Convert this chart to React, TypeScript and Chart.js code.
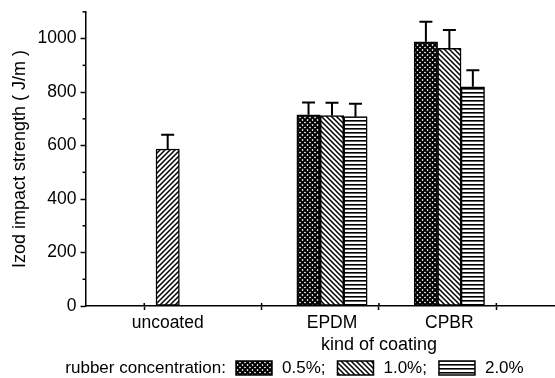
import React, { useEffect, useRef } from 'react';
import { Chart, registerables } from 'chart.js';

Chart.register(...registerables);

// ---- data ----
const categories = ['uncoated', 'EPDM', 'CPBR'];
const categoryX = [0.7, 2.1, 3.1];
const seriesLabels = ['0.5%', '1.0%', '2.0%'];
const seriesOffsets = [-0.2, 0, 0.2];
const values05 = [null, 715, 988];
const values10 = [587, 712, 964];
const values20 = [null, 708, 820];
const errors05 = [null, 46, 75];
const errors10 = [53, 48, 68];
const errors20 = [null, 48, 62];
const yMajorTicks = [0, 200, 400, 600, 800, 1000];
const yMinorTicks = [100, 300, 500, 700, 900, 1100];
const xMarkTicks = [0.5, 1.5, 2.5, 3.5];
const yTitle = 'Izod impact strength ( J/m )';
const xTitle = 'kind of coating';
const legendTitle = 'rubber concentration:';

const FONT = '"Liberation Sans", Arial, Helvetica, sans-serif';

type Kind = 'cross' | 'back' | 'fwd' | 'horiz';

function makePattern(target: CanvasRenderingContext2D, kind: Kind): CanvasPattern | string {
  const c = document.createElement('canvas');
  const n = kind === 'horiz' ? 4 : 5;
  c.width = n;
  c.height = n;
  const g = c.getContext('2d');
  if (!g) return '#fff';
  g.fillStyle = '#fff';
  g.fillRect(0, 0, n, n);
  g.strokeStyle = '#000';
  g.fillStyle = '#000';
  if (kind === 'horiz') {
    g.fillRect(0, 0, n, 1.6);
  } else {
    g.lineWidth = kind === 'cross' ? 2.0 : 1.5;
    g.lineCap = 'square';
    const back = () => {
      g.beginPath();
      g.moveTo(-1, -1); g.lineTo(n + 1, n + 1);
      g.moveTo(-1, n - 1); g.lineTo(1, n + 1);
      g.moveTo(n - 1, -1); g.lineTo(n + 1, 1);
      g.stroke();
    };
    const fwd = () => {
      g.beginPath();
      g.moveTo(-1, n + 1); g.lineTo(n + 1, -1);
      g.moveTo(-1, 1); g.lineTo(1, -1);
      g.moveTo(n - 1, n + 1); g.lineTo(n + 1, n - 1);
      g.stroke();
    };
    if (kind === 'back' || kind === 'cross') back();
    if (kind === 'fwd' || kind === 'cross') fwd();
  }
  return target.createPattern(c, 'repeat') || '#fff';
}

function buildPoints(values: (number | null)[], errors: (number | null)[], offset: number) {
  const pts: { x: number; y: number; err: number }[] = [];
  values.forEach((v, i) => {
    if (v !== null) pts.push({ x: categoryX[i] + offset, y: v, err: errors[i] ?? 0 });
  });
  return pts;
}

export default function App() {
  const ref = useRef<HTMLCanvasElement | null>(null);

  useEffect(() => {
    document.body.style.margin = '0';
    const canvas = ref.current;
    if (!canvas) return;
    const ctx = canvas.getContext('2d');
    if (!ctx) return;

    const pCross = makePattern(ctx, 'cross');
    const pBack = makePattern(ctx, 'back');
    const pFwd = makePattern(ctx, 'fwd');
    const pHoriz = makePattern(ctx, 'horiz');
    const seriesPatterns = [pCross, pBack, pHoriz];

    const valueSets = [values05, values10, values20];
    const errorSets = [errors05, errors10, errors20];

    const datasets = seriesLabels.map((label, s) => {
      const pts = buildPoints(valueSets[s], errorSets[s], seriesOffsets[s]);
      return {
        label,
        data: pts,
        backgroundColor: pts.map((p) =>
          s === 1 && Math.abs(p.x - categoryX[0]) < 1e-6 ? pFwd : seriesPatterns[s]
        ),
        borderColor: '#000',
        borderWidth: 1.5,
        borderSkipped: false,
        barThickness: 23.4,
      };
    });

    const errorBars = {
      id: 'errorBars',
      afterDatasetsDraw(chart: any) {
        const c = chart.ctx;
        const yS = chart.scales.y;
        c.save();
        c.strokeStyle = '#000';
        c.lineWidth = 2;
        chart.data.datasets.forEach((ds: any, di: number) => {
          const meta = chart.getDatasetMeta(di);
          meta.data.forEach((el: any, i: number) => {
            const pt = ds.data[i];
            const top = yS.getPixelForValue(pt.y + pt.err);
            c.beginPath();
            c.moveTo(el.x, el.y);
            c.lineTo(el.x, top);
            c.moveTo(el.x - 6.5, top);
            c.lineTo(el.x + 6.5, top);
            c.stroke();
          });
        });
        c.restore();
      },
    };

    const extras = {
      id: 'extras',
      afterDraw(chart: any) {
        const c = chart.ctx;
        const xS = chart.scales.x;
        const yS = chart.scales.y;
        c.save();
        // minor y ticks
        c.strokeStyle = '#000';
        c.lineWidth = 1.5;
        yMinorTicks.forEach((v) => {
          const py = yS.getPixelForValue(v);
          c.beginPath();
          c.moveTo(xS.left - 3, py);
          c.lineTo(xS.left, py);
          c.stroke();
        });
        // x tick marks above the axis
        xMarkTicks.forEach((v) => {
          const px = xS.getPixelForValue(v);
          c.beginPath();
          c.moveTo(px, yS.bottom - 3);
          c.lineTo(px, yS.bottom);
          c.stroke();
        });
        // x title
        c.fillStyle = '#000';
        c.font = '18px ' + FONT;
        c.textAlign = 'center';
        c.textBaseline = 'middle';
        c.fillText(xTitle, xS.getPixelForValue(2.5), 345);
        // legend
        const yc = 368;
        c.font = '17px ' + FONT;
        c.textAlign = 'right';
        c.fillText(legendTitle, 226, yc);
        c.textAlign = 'left';
        let x = 236;
        seriesLabels.forEach((lab, i) => {
          c.fillStyle = seriesPatterns[i] as any;
          c.fillRect(x, yc - 7, 36, 14);
          c.strokeStyle = '#000';
          c.lineWidth = 1.5;
          c.strokeRect(x, yc - 7, 36, 14);
          x += 36 + 10;
          c.fillStyle = '#000';
          const t = lab + (i < seriesLabels.length - 1 ? ';' : '');
          c.fillText(t, x, yc);
          x += c.measureText(t).width + 12;
        });
        c.restore();
      },
    };

    const chart = new Chart(ctx, {
      type: 'bar',
      data: { datasets: datasets as any },
      plugins: [errorBars, extras],
      options: {
        animation: false,
        responsive: false,
        maintainAspectRatio: false,
        layout: { padding: { left: 5, right: 0, top: 0, bottom: 41 } },
        plugins: {
          legend: { display: false },
          tooltip: { enabled: false },
        },
        scales: {
          x: {
            type: 'linear',
            min: 0,
            max: 4,
            stacked: true,
            offset: false,
            afterBuildTicks: (scale: any) => {
              scale.ticks = [...xMarkTicks, ...categoryX]
                .sort((a, b) => a - b)
                .map((v) => ({ value: v }));
            },
            ticks: {
              autoSkip: false,
              maxRotation: 0,
              minRotation: 0,
              padding: 3,
              color: '#000',
              font: { family: FONT, size: 17.5 },
              callback: (v: any) => {
                const i = categoryX.indexOf(v);
                return i >= 0 ? categories[i] : '';
              },
            },
            grid: {
              offset: false,
              drawOnChartArea: false,
              drawTicks: true,
              tickLength: 4,
              tickWidth: 1.5,
              tickColor: (c: any) =>
                c.tick && categoryX.includes(c.tick.value) ? 'rgba(0,0,0,0)' : '#000',
            },
            border: { display: true, color: '#000', width: 1.5 },
          },
          y: {
            min: 0,
            max: 1100,
            afterBuildTicks: (scale: any) => {
              scale.ticks = [...yMajorTicks, 1100].map((v) => ({ value: v }));
            },
            ticks: {
              padding: 4,
              color: '#000',
              font: { family: FONT, size: 17.5, lineHeight: 0.9 },
              callback: (v: any) => (yMajorTicks.includes(v) ? String(v) : ''),
            },
            grid: {
              drawOnChartArea: false,
              drawTicks: true,
              tickLength: 5,
              tickWidth: 1.5,
              tickColor: (c: any) =>
                c.tick && yMajorTicks.includes(c.tick.value) ? '#000' : 'rgba(0,0,0,0)',
            },
            border: { display: true, color: '#000', width: 1.5 },
            title: {
              display: true,
              text: yTitle,
              color: '#000',
              font: { family: FONT, size: 18 },
              padding: { top: 4, bottom: 3 },
            },
          },
        },
      } as any,
    });

    return () => chart.destroy();
  }, []);

  return (
    <div style={{ width: 555, height: 378, background: '#fff' }}>
      <canvas ref={ref} width={555} height={378} style={{ display: 'block' }} />
    </div>
  );
}
